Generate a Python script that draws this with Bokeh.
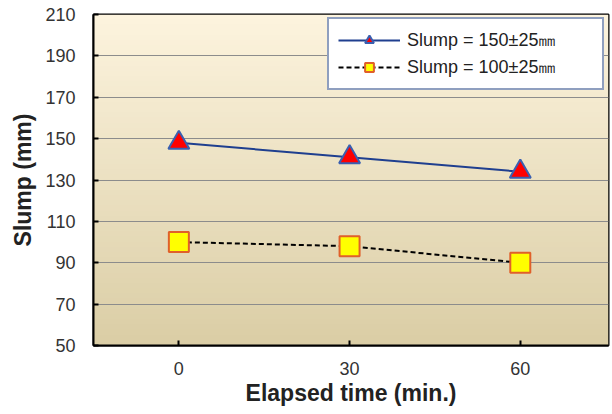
import numpy as np
from bokeh.plotting import figure
from bokeh.models import Legend, LegendItem, FixedTicker, Range1d
from bokeh.embed import file_html
from bokeh.resources import INLINE

# Data
elapsed = [0, 30, 60]
slump_150 = [148, 141, 134]
slump_100 = [100, 98, 90]
label_150 = "Slump = 150±25㎜"
label_100 = "Slump = 100±25㎜"
y_ticks = [50, 70, 90, 110, 130, 150, 170, 190, 210]
x_ticks = [0, 30, 60]

FONT = "Liberation Sans"

p = figure(width=612, height=414, output_backend="svg", toolbar_location=None,
           x_range=Range1d(-15, 75.5), y_range=Range1d(50, 210),
           min_border_left=93, min_border_right=4, min_border_top=14, min_border_bottom=69)
p.background_fill_color = "white"
p.border_fill_color = "white"
p.outline_line_color = "black"
p.outline_line_width = 2

# gradient background of plot area
n = 64
top = np.array([253, 244, 222])
bot = np.array([219, 206, 166])
t = np.linspace(0, 1, n)[:, None]
cols = (bot * (1 - t) + top * t).astype(np.uint32)
img = np.empty((n, 1), dtype=np.uint32)
view = img.view(dtype=np.uint8).reshape((n, 1, 4))
view[:, 0, 0] = cols[:, 0]
view[:, 0, 1] = cols[:, 1]
view[:, 0, 2] = cols[:, 2]
view[:, 0, 3] = 255
p.image_rgba(image=[img], x=-15, y=50, dw=90.5, dh=160, level="image")

# grid
p.xgrid.grid_line_color = None
p.ygrid.grid_line_color = "#8c8c8c"
p.ygrid.grid_line_width = 1.2
p.ygrid.ticker = FixedTicker(ticks=y_ticks)

# series
l1 = p.line(elapsed, slump_150, line_color="#1f3f8f", line_width=2)
m1 = p.scatter(elapsed, slump_150, marker="triangle", size=21, fill_color="#ff0000",
               line_color="#3a5fb0", line_width=2)
l2 = p.line(elapsed, slump_100, line_color="black", line_width=2, line_dash="5 3")
m2 = p.scatter(elapsed, slump_100, marker="square", size=20, fill_color="#ffff00",
               line_color="#e0602a", line_width=2)

# axes
p.xaxis.ticker = FixedTicker(ticks=x_ticks)
p.yaxis.ticker = FixedTicker(ticks=y_ticks)
for ax in (p.xaxis[0], p.yaxis[0]):
    ax.axis_line_color = "black"
    ax.axis_line_width = 2
    ax.major_tick_line_color = "black"
    ax.major_tick_line_width = 2
    ax.major_tick_in = 5
    ax.major_tick_out = 0
    ax.minor_tick_line_color = None
    ax.major_label_text_font = FONT
    ax.major_label_text_font_size = "18px"
    ax.major_label_text_color = "#333333"
    ax.axis_label_text_font = FONT
    ax.axis_label_text_font_style = "bold"
    ax.axis_label_text_font_size = "23px"
    ax.axis_label_text_color = "#222222"

p.xaxis.axis_label = "Elapsed time (min.)"
p.yaxis.axis_label = "Slump (mm)"
p.xaxis.major_label_standoff = 16
p.xaxis.axis_label_standoff = 2
p.yaxis.major_label_standoff = 18
p.yaxis.axis_label_standoff = 6

legend = Legend(items=[LegendItem(label=label_150, renderers=[l1, m1]),
                       LegendItem(label=label_100, renderers=[l2, m2])],
                location=(234, 255))
legend.label_text_font = FONT
legend.label_text_font_size = "18px"
legend.label_text_color = "#222222"
legend.glyph_width = 62
legend.glyph_height = 22
legend.label_height = 22
legend.label_width = 186
legend.label_standoff = 7
legend.spacing = 3
legend.padding = 9
legend.margin = 0
legend.border_line_color = "#1f3f7f"
legend.border_line_width = 2
legend.background_fill_color = "white"
legend.background_fill_alpha = 1
p.add_layout(legend, "center")

open("out.html", "w").write(file_html(p, INLINE))
